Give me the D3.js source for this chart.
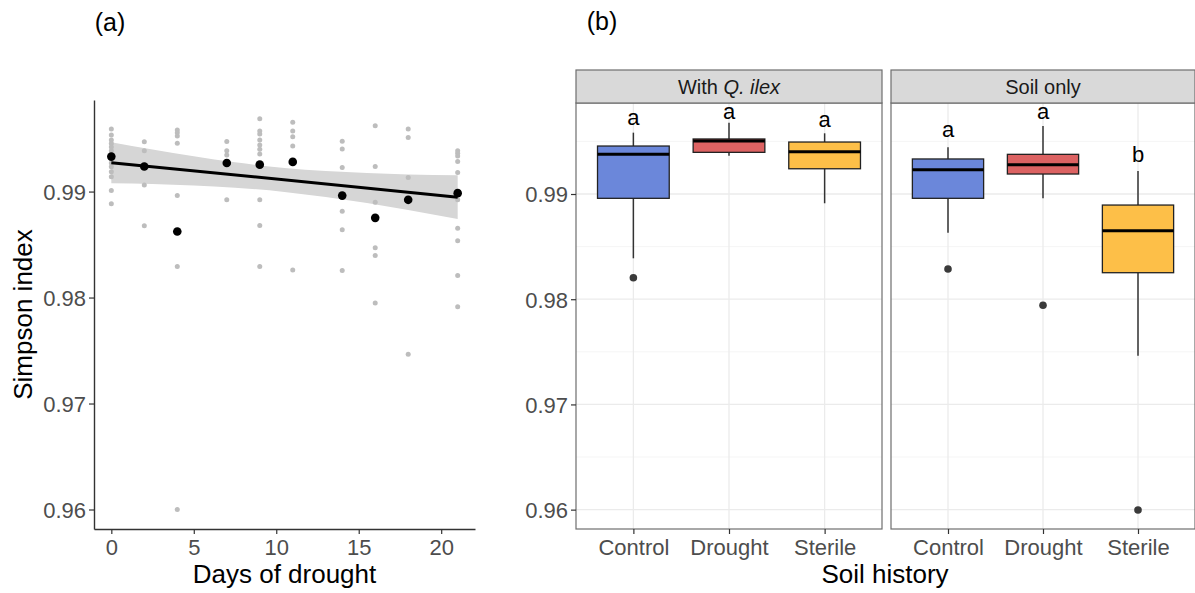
<!DOCTYPE html>
<html>
<head>
<meta charset="utf-8">
<script src="https://cdn.jsdelivr.net/npm/d3@7"></script>
<style>
  html, body { margin: 0; padding: 0; background: #fff; }
  svg text { font-family: "Liberation Sans", Arial, Helvetica, sans-serif; }
</style>
</head>
<body>
<svg id="chart" width="1195" height="593"></svg>
<script>
// ---------------- Panel (a) data ----------------
const days = [0, 2, 4, 7, 9, 11, 14, 16, 18, 21];
const rawValues = [
  [0.99591, 0.99534, 0.99487, 0.99454, 0.99421, 0.99384, 0.99270, 0.99233, 0.99186, 0.99139, 0.99009, 0.98884],
  [0.99471, 0.99384, 0.99250, 0.99063, 0.98677],
  [0.99582, 0.99556, 0.99525, 0.99456, 0.98962, 0.98293, 0.96000],
  [0.99473, 0.99384, 0.99346, 0.98922],
  [0.99688, 0.99572, 0.99544, 0.99487, 0.99440, 0.99400, 0.99355, 0.98922, 0.98680, 0.98293],
  [0.99654, 0.99572, 0.99518, 0.99431, 0.98259],
  [0.99475, 0.99402, 0.99226, 0.98815, 0.98639, 0.98255],
  [0.99622, 0.99236, 0.98900, 0.98469, 0.98397, 0.97948],
  [0.99591, 0.99509, 0.99132, 0.97464],
  [0.99386, 0.99362, 0.99336, 0.99283, 0.99179, 0.98922, 0.98653, 0.98535, 0.98208, 0.97913]
];
const meanValues = [0.99330, 0.99236, 0.98623, 0.99270, 0.99254, 0.99280, 0.98962, 0.98752, 0.98922, 0.98985];
const fitDays = [0, 21];
const fitValues = [0.99273, 0.98947];
const bandDays  = [0, 2.5, 5, 7.5, 10.5, 13, 15.5, 18, 21];
const bandUpper = [0.99466, 0.99398, 0.99334, 0.99276, 0.99223, 0.99194, 0.99175, 0.99162, 0.99155];
const bandLower = [0.99079, 0.99072, 0.99058, 0.99037, 0.98997, 0.98949, 0.98891, 0.98825, 0.98740];
const xTicksA = [0, 5, 10, 15, 20];
const yTicks = [0.96, 0.97, 0.98, 0.99];
const yMinor = [0.965, 0.975, 0.985, 0.995];

// ---------------- Panel (b) data ----------------
const facets = ["With Q. ilex", "Soil only"];
const treatments = ["Control", "Drought", "Sterile"];
const boxColors = ["#6b87da", "#dc6262", "#fdbf48"];
// order: With Q. ilex (Control, Drought, Sterile), Soil only (Control, Drought, Sterile)
const whiskerLow  = [0.98389, 0.99364, 0.98912, 0.98632, 0.98959, 0.97463];
const q1          = [0.98959, 0.99396, 0.99240, 0.98959, 0.99190, 0.98252];
const medians     = [0.99377, 0.99504, 0.99402, 0.99231, 0.99279, 0.98651];
const q3          = [0.99456, 0.99523, 0.99494, 0.99333, 0.99377, 0.98895];
const whiskerHigh = [0.99583, 0.99678, 0.99577, 0.99444, 0.99646, 0.99219];
const outliers    = [[0.98204], [], [], [0.98287], [0.97942], [0.95996]];
const letters     = ["a", "a", "a", "a", "a", "b"];
const letterPos   = [0.99713, 0.99770, 0.99694, 0.99599, 0.99770, 0.99361];

// ---------------- Drawing ----------------
const svg = d3.select("#chart");
const tickColor = "#4d4d4d";

// ===== Panel (a) =====
const xA = d3.scaleLinear().domain([-1.05, 22.05]).range([94, 475]);
const yA = d3.scaleLinear().domain([0.95816, 0.99864]).range([529, 100]);
const gA = svg.append("g");

const bandData = bandDays.map((d, i) => ({d, lo: bandLower[i], hi: bandUpper[i]}));
gA.append("path")
  .datum(bandData)
  .attr("d", d3.area().x(p => xA(p.d)).y0(p => yA(p.lo)).y1(p => yA(p.hi)).curve(d3.curveMonotoneX))
  .attr("fill", "#d6d6d6");

const raw = [];
days.forEach((d, i) => rawValues[i].forEach(v => raw.push({d, v})));
gA.selectAll("circle.raw").data(raw).enter().append("circle")
  .attr("class", "raw")
  .attr("cx", p => xA(p.d)).attr("cy", p => yA(p.v)).attr("r", 2.5)
  .attr("fill", "#bdbdbd");

gA.append("path")
  .datum(fitDays.map((d, i) => ({d, v: fitValues[i]})))
  .attr("d", d3.line().x(p => xA(p.d)).y(p => yA(p.v)))
  .attr("stroke", "#000").attr("stroke-width", 3).attr("fill", "none");

gA.selectAll("circle.mean").data(days.map((d, i) => ({d, v: meanValues[i]}))).enter().append("circle")
  .attr("class", "mean")
  .attr("cx", p => xA(p.d)).attr("cy", p => yA(p.v)).attr("r", 4.3)
  .attr("fill", "#000");

const axAx = gA.append("g").attr("transform", "translate(0,529)")
  .call(d3.axisBottom(xA).tickValues(xTicksA).tickSize(5).tickPadding(4).tickSizeOuter(0));
const axAy = gA.append("g").attr("transform", "translate(94,0)")
  .call(d3.axisLeft(yA).tickValues(yTicks).tickSize(5).tickPadding(3).tickSizeOuter(0).tickFormat(d3.format(".2f")));
[axAx, axAy].forEach(ax => {
  ax.select(".domain").attr("stroke", "#333").attr("stroke-width", 1.4);
  ax.selectAll(".tick line").attr("stroke", "#333").attr("stroke-width", 1.2);
  ax.selectAll(".tick text").attr("fill", tickColor).style("font-size", "22px");
});
axAx.selectAll(".tick text").attr("dy", "0.75em");
axAy.selectAll(".tick text").attr("dy", "0.36em");

gA.append("text").attr("x", 284.5).attr("y", 583).attr("text-anchor", "middle")
  .style("font-size", "26px").attr("fill", "#000").text("Days of drought");
gA.append("text").attr("transform", "translate(32,314.5) rotate(-90)").attr("text-anchor", "middle")
  .style("font-size", "26px").attr("fill", "#000").text("Simpson index");
svg.append("text").attr("x", 110).attr("y", 31).attr("text-anchor", "middle")
  .style("font-size", "25px").attr("fill", "#000").text("(a)");
svg.append("text").attr("x", 602).attr("y", 30).attr("text-anchor", "middle")
  .style("font-size", "25px").attr("fill", "#000").text("(b)");

// ===== Panel (b) =====
const yB = d3.scaleLinear().domain([0.95816, 0.99865]).range([529, 103]);
const panels = [[576, 882], [891, 1195]];
const stripTop = 70, stripBottom = 103;

facets.forEach((facet, f) => {
  const [x0, x1] = panels[f];
  // ggplot discrete expansion: 0.6 units on each side of 3 categories
  const unit = (x1 - x0) / 3.2;
  const cx = t => x0 + (0.6 + treatments.indexOf(t)) * unit;
  const g = svg.append("g");

  // grid
  g.selectAll("line.minor").data(yMinor).enter().append("line")
    .attr("x1", x0).attr("x2", x1).attr("y1", d => yB(d)).attr("y2", d => yB(d))
    .attr("stroke", "#f2f2f2").attr("stroke-width", 0.8);
  g.selectAll("line.major").data(yTicks).enter().append("line")
    .attr("x1", x0).attr("x2", x1).attr("y1", d => yB(d)).attr("y2", d => yB(d))
    .attr("stroke", "#ebebeb").attr("stroke-width", 1.3);
  g.selectAll("line.vmajor").data(treatments).enter().append("line")
    .attr("x1", d => cx(d)).attr("x2", d => cx(d)).attr("y1", stripBottom).attr("y2", 529)
    .attr("stroke", "#ebebeb").attr("stroke-width", 1.3);

  const boxW = 0.75 * unit;
  treatments.forEach((t, k) => {
    const i = f * 3 + k;
    const c = cx(t);
    g.append("line").attr("x1", c).attr("x2", c)
      .attr("y1", yB(q3[i])).attr("y2", yB(whiskerHigh[i]))
      .attr("stroke", "#333").attr("stroke-width", 1.5);
    g.append("line").attr("x1", c).attr("x2", c)
      .attr("y1", yB(q1[i])).attr("y2", yB(whiskerLow[i]))
      .attr("stroke", "#333").attr("stroke-width", 1.5);
    g.append("rect").attr("x", c - boxW / 2).attr("width", boxW)
      .attr("y", yB(q3[i])).attr("height", yB(q1[i]) - yB(q3[i]))
      .attr("fill", boxColors[k]).attr("stroke", "#222").attr("stroke-width", 1.3);
    g.append("line").attr("x1", c - boxW / 2).attr("x2", c + boxW / 2)
      .attr("y1", yB(medians[i])).attr("y2", yB(medians[i]))
      .attr("stroke", "#000").attr("stroke-width", 3);
    outliers[i].forEach(v => {
      g.append("circle").attr("cx", c).attr("cy", yB(v)).attr("r", 3.8).attr("fill", "#3a3a3a");
    });
    g.append("text").attr("x", c).attr("y", yB(letterPos[i]) + 6).attr("text-anchor", "middle")
      .style("font-size", "22px").attr("fill", "#000").text(letters[i]);
  });

  // panel border
  g.append("rect").attr("x", x0).attr("y", stripBottom).attr("width", x1 - x0).attr("height", 529 - stripBottom)
    .attr("fill", "none").attr("stroke", "#6e6e6e").attr("stroke-width", 1.2);
  // strip
  g.append("rect").attr("x", x0).attr("y", stripTop).attr("width", x1 - x0).attr("height", stripBottom - stripTop)
    .attr("fill", "#d9d9d9").attr("stroke", "#6e6e6e").attr("stroke-width", 1.2);
  const st = g.append("text").attr("x", (x0 + x1) / 2).attr("y", (stripTop + stripBottom) / 2 + 7)
    .attr("text-anchor", "middle").style("font-size", "20px").attr("fill", "#1a1a1a");
  if (facet === "With Q. ilex") {
    st.append("tspan").text("With ");
    st.append("tspan").style("font-style", "italic").text("Q. ilex");
  } else {
    st.text(facet);
  }

  // x axis
  const xAxisScale = d3.scalePoint().domain(treatments).range([cx(treatments[0]), cx(treatments[2])]);
  const ax = g.append("g").attr("transform", "translate(0,529)")
    .call(d3.axisBottom(xAxisScale).tickSize(5).tickPadding(4).tickSizeOuter(0));
  ax.select(".domain").remove();
  ax.selectAll(".tick line").attr("stroke", "#333").attr("stroke-width", 1.2);
  ax.selectAll(".tick text").attr("fill", tickColor).style("font-size", "22px").attr("dy", "0.75em");

  if (f === 0) {
    const ay = g.append("g").attr("transform", `translate(${x0},0)`)
      .call(d3.axisLeft(yB).tickValues(yTicks).tickSize(5).tickPadding(3).tickSizeOuter(0).tickFormat(d3.format(".2f")));
    ay.select(".domain").remove();
    ay.selectAll(".tick line").attr("stroke", "#333").attr("stroke-width", 1.2);
    ay.selectAll(".tick text").attr("fill", tickColor).style("font-size", "22px").attr("dy", "0.36em");
  }
});

svg.append("text").attr("x", 885).attr("y", 583).attr("text-anchor", "middle")
  .style("font-size", "26px").attr("fill", "#000").text("Soil history");
</script>
</body>
</html>
